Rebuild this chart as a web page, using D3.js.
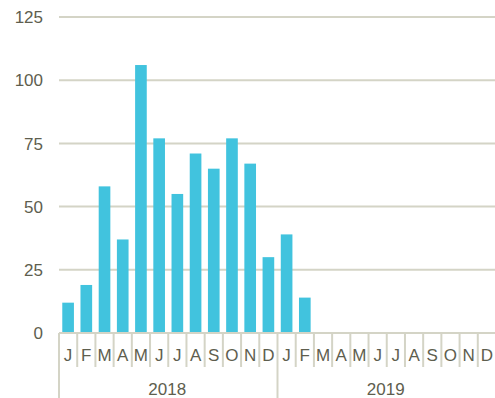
<!DOCTYPE html>
<html><head><meta charset="utf-8">
<script src="https://cdn.jsdelivr.net/npm/d3@7"></script>
<style>body{margin:0;background:#fff}svg{display:block}text{font-family:"Liberation Sans",Arial,sans-serif;fill:#5e5e4e}</style>
</head><body><svg id="c" width="495" height="398"></svg>
<script>
const months = ["J","F","M","A","M","J","J","A","S","O","N","D"];
const years = ["2018","2019"];
const values2018 = [12,19,58,37,106,77,55,71,65,77,67,30];
const values2019 = [39,14,null,null,null,null,null,null,null,null,null,null];
const yTicks = [0,25,50,75,100,125];

(function(){
const data = [];
years.forEach((yr,yi)=>{
  const vals = yi===0?values2018:values2019;
  months.forEach((m,mi)=>data.push({key:yr+"-"+mi, month:m, year:yr, value:vals[mi]}));
});

const svg = d3.select("#c");
const pl=59, pr=496, pt=17, base=333;
const x = d3.scaleBand().domain(data.map(d=>d.key)).range([pl,pr]).paddingInner(0.36).paddingOuter(0.18);
const y = d3.scaleLinear().domain([0,125]).range([base,pt]);
const step = x.step();
const grid="#d4d4c6";

svg.append("g").selectAll("line").data(yTicks).join("line")
  .attr("x1",pl).attr("x2",495).attr("y1",d=>y(d)).attr("y2",d=>y(d))
  .attr("stroke",grid).attr("stroke-width",2);
svg.append("g").selectAll("text").data(yTicks).join("text")
  .attr("x",43).attr("y",d=>y(d)).attr("dy","0.36em").attr("text-anchor","end")
  .attr("font-size",17).text(d=>d);

svg.append("g").selectAll("rect").data(data.filter(d=>d.value!=null)).join("rect")
  .attr("x",d=>x(d.key)).attr("width",x.bandwidth())
  .attr("y",d=>y(d.value)).attr("height",d=>base-y(d.value))
  .attr("fill","#41c3de");

svg.append("line").attr("x1",pl).attr("x2",495).attr("y1",base).attr("y2",base).attr("stroke",grid).attr("stroke-width",2);
const boundaries = d3.range(0,data.length+1);
svg.append("g").selectAll("line").data(boundaries).join("line")
  .attr("x1",i=>pl+i*step).attr("x2",i=>pl+i*step)
  .attr("y1",base).attr("y2",i=>(i%12===0 && i<data.length)?398:367)
  .attr("stroke",grid).attr("stroke-width",2);
svg.append("g").selectAll("text").data(data).join("text")
  .attr("x",d=>x(d.key)+x.bandwidth()/2).attr("y",355).attr("dy","0.36em")
  .attr("text-anchor","middle").attr("font-size",17).text(d=>d.month);
svg.append("g").selectAll("text").data(years).join("text")
  .attr("x",(d,i)=>pl+(i*12+6)*step - 1).attr("y",389).attr("dy","0.36em")
  .attr("text-anchor","middle").attr("font-size",17).text(d=>d);
})();
</script></body></html>
